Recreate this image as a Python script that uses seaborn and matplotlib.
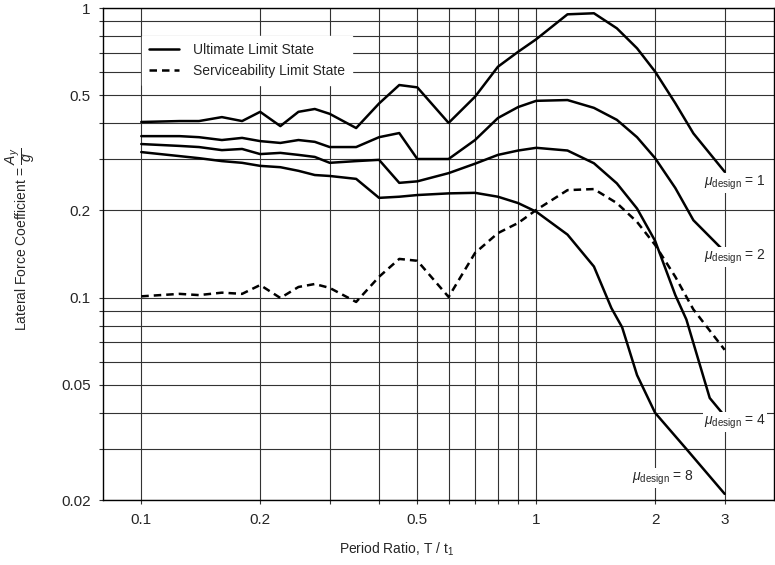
import pandas as pd
import matplotlib
matplotlib.use('Agg')
import matplotlib.pyplot as plt
import seaborn as sns
from matplotlib.lines import Line2D
from matplotlib.ticker import NullLocator

# Period ratios T/t1
period = [0.1, 0.125, 0.14, 0.16, 0.18, 0.2, 0.225, 0.25, 0.275, 0.3, 0.35, 0.4, 0.45,
          0.5, 0.6, 0.7, 0.8, 0.9, 1.0, 1.2, 1.4, 1.6, 1.8, 2.0, 2.25, 2.5, 3.0]

# Ultimate limit state, mu_design = 1, 2, 4, 8
uls_mu1 = [0.404, 0.407, 0.407, 0.420, 0.407, 0.438, 0.391, 0.438, 0.448, 0.431, 0.385, 0.468, 0.542,
           0.532, 0.401, 0.494, 0.627, 0.706, 0.780, 0.951, 0.959, 0.851, 0.726, 0.603, 0.469, 0.369, 0.272]
uls_mu2 = [0.361, 0.361, 0.358, 0.350, 0.356, 0.347, 0.342, 0.350, 0.345, 0.331, 0.331, 0.358, 0.370,
           0.301, 0.301, 0.350, 0.417, 0.455, 0.478, 0.481, 0.452, 0.411, 0.358, 0.303, 0.239, 0.185, 0.144]

period_mu4 = [0.1, 0.125, 0.14, 0.16, 0.18, 0.2, 0.225, 0.25, 0.275, 0.3, 0.35, 0.4, 0.45,
              0.5, 0.6, 0.7, 0.8, 0.9, 1.0, 1.2, 1.4, 1.6, 1.8, 2.0, 2.25, 2.4, 2.75, 3.0]
uls_mu4 = [0.339, 0.334, 0.331, 0.323, 0.326, 0.313, 0.316, 0.311, 0.306, 0.292, 0.296, 0.299, 0.249,
           0.252, 0.269, 0.290, 0.311, 0.322, 0.329, 0.322, 0.291, 0.248, 0.203, 0.157, 0.102, 0.084, 0.045, 0.039]

period_mu8 = [0.1, 0.125, 0.14, 0.16, 0.18, 0.2, 0.225, 0.25, 0.275, 0.3, 0.35, 0.4, 0.45,
              0.5, 0.6, 0.7, 0.8, 0.9, 1.0, 1.2, 1.4, 1.55, 1.65, 1.8, 2.0, 2.4, 3.0]
uls_mu8 = [0.318, 0.308, 0.303, 0.296, 0.292, 0.285, 0.282, 0.274, 0.265, 0.263, 0.257, 0.221, 0.223,
           0.226, 0.229, 0.230, 0.223, 0.212, 0.198, 0.165, 0.128, 0.092, 0.079, 0.054, 0.040, 0.030, 0.021]

# Serviceability limit state
sls = [0.101, 0.103, 0.102, 0.104, 0.103, 0.1105, 0.0997, 0.1088, 0.1114, 0.108, 0.0966, 0.118, 0.136,
       0.134, 0.1005, 0.1426, 0.167, 0.181, 0.2007, 0.235, 0.237, 0.212, 0.1825, 0.152, 0.118, 0.091, 0.066]

# curve labels and where they sit
mu_labels = ['1', '2', '4', '8']
mu_label_x = [2.66, 2.66, 2.66, 1.75]
mu_label_y = [0.249, 0.138, 0.0372, 0.0238]

xgrid = [0.1, 0.2, 0.3, 0.4, 0.5, 0.6, 0.7, 0.8, 0.9, 1, 2, 3]
xticklabels = ['0.1', '0.2', '', '', '0.5', '', '', '', '', '1', '2', '3']
ygrid = [0.02, 0.03, 0.04, 0.05, 0.06, 0.07, 0.08, 0.09, 0.1, 0.2, 0.3, 0.4, 0.5, 0.6, 0.7, 0.8, 0.9, 1]
yticklabels = ['0.02', '', '', '0.05', '', '', '', '', '0.1', '0.2', '', '', '0.5', '', '', '', '', '1']

# long-form table for seaborn
frames = []
for name, xs, ys, state in [('mu1', period, uls_mu1, 'ULS'), ('mu2', period, uls_mu2, 'ULS'),
                            ('mu4', period_mu4, uls_mu4, 'ULS'), ('mu8', period_mu8, uls_mu8, 'ULS'),
                            ('sls', period, sls, 'SLS')]:
    frames.append(pd.DataFrame({'period': xs, 'coef': ys, 'curve': name, 'state': state}))
df = pd.concat(frames, ignore_index=True)

sns.set_style('ticks')
plt.rcParams['font.family'] = ['Liberation Sans', 'DejaVu Sans']
plt.rcParams['mathtext.fontset'] = 'custom'
plt.rcParams['mathtext.rm'] = 'Liberation Sans'
plt.rcParams['mathtext.it'] = 'Liberation Sans:italic'

fig = plt.figure(figsize=(7.75, 5.65), dpi=100)
ax = fig.add_axes([103 / 775, 65 / 565, 671 / 775, 492 / 565])

sns.lineplot(data=df, x='period', y='coef', units='curve', style='state', estimator=None, sort=False,
             color='black', lw=1.8, dashes={'ULS': '', 'SLS': (3, 2)}, legend=False, ax=ax)

ax.set_xscale('log')
ax.set_yscale('log')
ax.set_xlim(0.08, 4.0)
ax.set_ylim(0.02, 1)
ax.set_xticks(xgrid, labels=xticklabels)
ax.set_yticks(ygrid, labels=yticklabels)
ax.xaxis.set_minor_locator(NullLocator())
ax.yaxis.set_minor_locator(NullLocator())
ax.tick_params(length=3, width=0.8, color='0.2', labelsize=11, pad=6)
ax.grid(True, color='0.2', lw=0.8)
for s in ax.spines.values():
    s.set_color('black')
    s.set_linewidth(1.0)

ax.set_xlabel(r'Period Ratio, T / t$_1$', fontsize=10)
ax.xaxis.set_label_coords(0.4375, -0.083)
ax.set_ylabel(r'Lateral Force Coefficient = $\dfrac{A_y}{g}$', fontsize=10)
ax.yaxis.set_label_coords(-0.098, 0.53)

for lab, lx, ly in zip(mu_labels, mu_label_x, mu_label_y):
    ax.text(lx, ly, r'$\mu_{\rm design}$ = ' + lab, fontsize=10, va='center', ha='left',
            bbox=dict(facecolor='white', edgecolor='none', pad=0.5))

handles = [Line2D([], [], color='black', lw=1.8),
           Line2D([], [], color='black', lw=1.8, dashes=(3, 2))]
leg = ax.legend(handles, ['Ultimate Limit State', 'Serviceability Limit State'], loc='upper left',
                bbox_to_anchor=(0.058, 0.943), fontsize=10, frameon=True, fancybox=False,
                facecolor='white', edgecolor='white', framealpha=1, handlelength=2.2,
                handletextpad=1.0, borderpad=0.5, borderaxespad=0, labelspacing=0.5)

fig.savefig('out.png', dpi=100)
